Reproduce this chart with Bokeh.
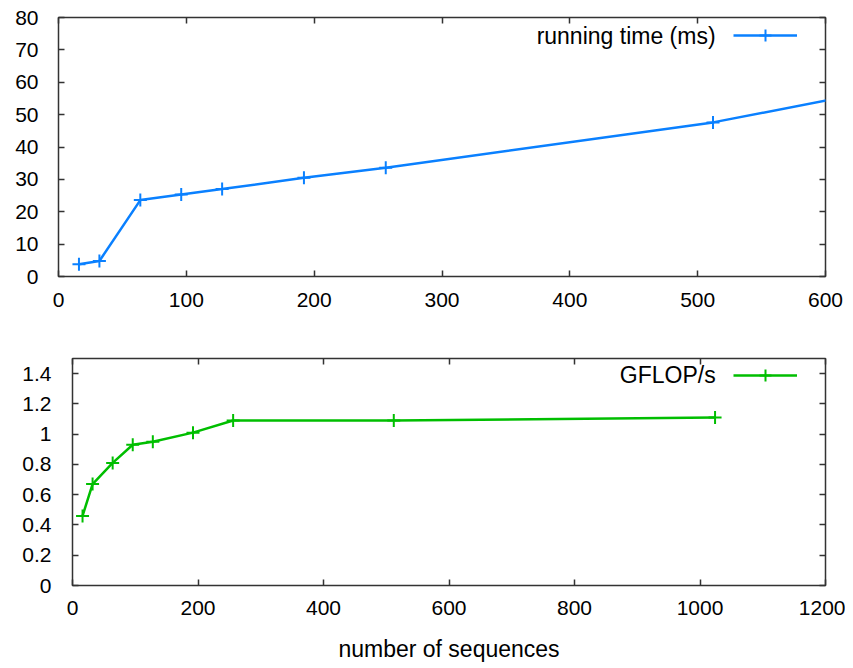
from bokeh.plotting import figure
from bokeh.models import (LinearAxis, Range1d, Legend, LegendItem, Label,
                          FixedTicker, CustomJSTickFormatter)
from bokeh.layouts import column
from bokeh.embed import file_html
from bokeh.resources import INLINE

# ---- data ----
seq = [16, 32, 64, 96, 128, 192, 256, 512, 1024]
time_ms = [3.8, 4.8, 23.6, 25.3, 27.0, 30.5, 33.6, 47.6, 86.6]
gflops = [0.46, 0.67, 0.81, 0.93, 0.95, 1.01, 1.09, 1.09, 1.11]

top_xticks = [0, 100, 200, 300, 400, 500, 600]
top_yticks = [0, 10, 20, 30, 40, 50, 60, 70, 80]
bot_xticks = [0, 200, 400, 600, 800, 1000, 1200]
bot_yticks = [0, 0.2, 0.4, 0.6, 0.8, 1.0, 1.2, 1.4]

BLUE = "#0A80FF"
GREEN = "#00BE00"
FRAME = "#333333"
FONT = "Liberation Sans"
TICK_FS = "21px"
TEXT_FS = "23px"


def style_axis(ax, ticks, show_labels=True, standoff=10):
    ax.ticker = FixedTicker(ticks=ticks)
    ax.axis_line_color = None
    ax.major_tick_in = 6
    ax.major_tick_out = 0
    ax.major_tick_line_color = FRAME
    ax.major_tick_line_width = 1.5
    ax.minor_tick_line_color = None
    ax.major_label_text_font = FONT
    ax.major_label_text_color = "black"
    if show_labels:
        ax.major_label_text_font_size = TICK_FS
        ax.major_label_standoff = standoff
    else:
        ax.formatter = CustomJSTickFormatter(code="return ''")
        ax.major_label_text_font_size = "1px"
        ax.major_label_standoff = 0


def make_fig(width, height, xr, yr, borders):
    l, r, t, b = borders
    p = figure(width=width, height=height, x_range=Range1d(*xr), y_range=Range1d(*yr),
               output_backend="svg", toolbar_location=None,
               min_border_left=l, min_border_right=r, min_border_top=t, min_border_bottom=b)
    p.frame_align = False
    p.xgrid.visible = False
    p.ygrid.visible = False
    p.outline_line_color = FRAME
    p.outline_line_width = 1.5
    p.background_fill_color = "white"
    p.border_fill_color = "white"
    return p


def add_series(p, xs, ys, color, legend_loc):
    ln = p.line(xs, ys, line_color=color, line_width=2.5)
    sc = p.scatter(xs, ys, marker="cross", size=13, line_color=color, line_width=2)
    leg = Legend(items=[LegendItem(label=" ", renderers=[ln, sc])],
                 location=legend_loc, padding=0, margin=0, spacing=0,
                 glyph_width=64, glyph_height=30, label_width=0, label_height=0,
                 label_standoff=0, label_text_font_size="1px",
                 border_line_color=None, background_fill_alpha=0)
    p.add_layout(leg)


# ---- top figure ----
p1 = make_fig(845, 322, (0, 600), (0, 80), (58, 20, 17, 46))
xb1 = p1.xaxis[0]
yl1 = p1.yaxis[0]
style_axis(xb1, top_xticks, standoff=16)
style_axis(yl1, top_yticks, standoff=20)
ax_top = LinearAxis()
style_axis(ax_top, top_xticks, show_labels=False)
p1.add_layout(ax_top, "above")
ax_right = LinearAxis()
style_axis(ax_right, top_yticks, show_labels=False)
p1.add_layout(ax_right, "right")
add_series(p1, seq, time_ms, BLUE, (675, 226))
p1.add_layout(Label(x=514, y=74.4, text="running time (ms)", text_align="right",
                    text_baseline="middle", text_font=FONT, text_font_size=TEXT_FS,
                    text_color="black"))

# ---- bottom figure ----
p2 = make_fig(845, 345, (0, 1200), (0, 1.5), (72, 20, 36, 82))
xb2 = p2.xaxis[0]
yl2 = p2.yaxis[0]
style_axis(xb2, bot_xticks, standoff=15)
style_axis(yl2, bot_yticks, standoff=21)
yl2.formatter = CustomJSTickFormatter(code="return tick == 0 ? '0' : (Math.abs(tick - Math.round(tick)) < 1e-9 ? String(Math.round(tick)) : tick.toFixed(1))")
ax_top2 = LinearAxis()
style_axis(ax_top2, bot_xticks, show_labels=False)
p2.add_layout(ax_top2, "above")
ax_right2 = LinearAxis()
style_axis(ax_right2, bot_yticks, show_labels=False)
p2.add_layout(ax_right2, "right")
add_series(p2, seq, gflops, GREEN, (661, 195))
p2.add_layout(Label(x=1025, y=1.388, text="GFLOP/s", text_align="right",
                    text_baseline="middle", text_font=FONT, text_font_size=TEXT_FS,
                    text_color="black"))
xb2.axis_label = "number of sequences"
xb2.axis_label_text_font = FONT
xb2.axis_label_text_font_size = TEXT_FS
xb2.axis_label_text_font_style = "normal"
xb2.axis_label_text_color = "black"
xb2.axis_label_standoff = 18

layout = column(p1, p2, spacing=0)
open("out.html", "w").write(file_html(layout, INLINE))
